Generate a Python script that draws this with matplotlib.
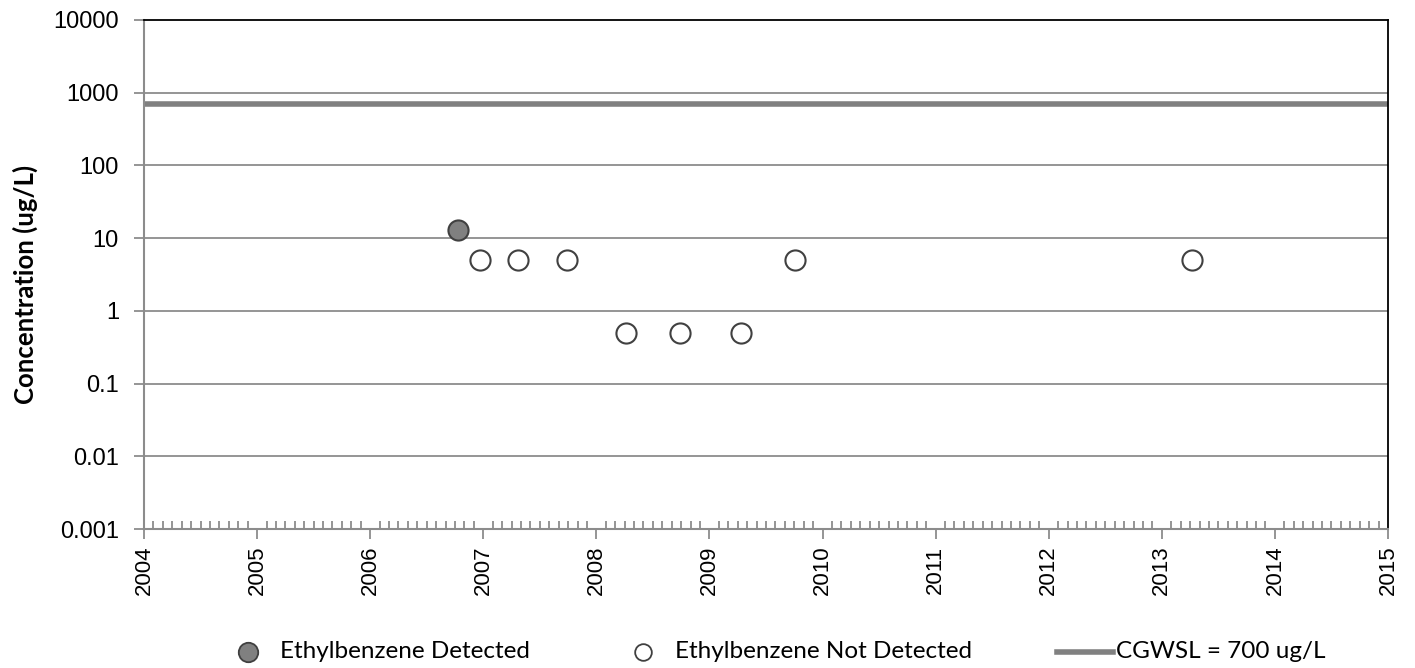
import matplotlib
matplotlib.use("Agg")
import matplotlib.pyplot as plt
from matplotlib.lines import Line2D
from matplotlib.ticker import FixedLocator, FixedFormatter, NullFormatter
import numpy as np

# Sample dates (decimal years) and concentrations (ug/L)
detected_dates = [2006.78]
detected_values = [13]
nondetect_dates = [2006.97, 2007.31, 2007.74, 2008.26, 2008.74, 2009.28, 2009.76, 2013.27]
nondetect_values = [5, 5, 5, 0.5, 0.5, 0.5, 5, 5]
cgwsl_value = 700
year_ticks = list(range(2004, 2016))
y_ticks = [0.001, 0.01, 0.1, 1, 10, 100, 1000, 10000]
y_tick_labels = ["0.001", "0.01", "0.1", "1", "10", "100", "1000", "10000"]
legend_labels = ["Ethylbenzene Detected", "Ethylbenzene Not Detected", "CGWSL = 700 ug/L"]

GRID = "#8c8c8c"
W, H = 1415, 668

fig = plt.figure(figsize=(W / 100, H / 100), dpi=100)
ax = fig.add_axes([144 / W, 1 - 529 / H, (1388 - 144) / W, (529 - 20) / H])

ax.set_yscale("log")
ax.set_ylim(0.001, 10000)
ax.set_xlim(2004, 2015)

for v in y_ticks[1:-1]:
    ax.axhline(v, color=GRID, lw=1.3, zorder=1)

ax.axhline(cgwsl_value, color="#808080", lw=4, zorder=2)

ax.scatter(detected_dates, detected_values, s=210, facecolor="#808080",
           edgecolor="#404040", linewidths=1.5, zorder=4)
ax.scatter(nondetect_dates, nondetect_values, s=210, facecolor="white",
           edgecolor="#404040", linewidths=1.5, zorder=4)

ax.yaxis.set_major_locator(FixedLocator(y_ticks))
ax.yaxis.set_major_formatter(FixedFormatter(y_tick_labels))
ax.yaxis.set_minor_locator(FixedLocator([]))
ax.yaxis.set_minor_formatter(NullFormatter())
ax.xaxis.set_major_locator(FixedLocator(year_ticks))
ax.set_xticklabels([str(y) for y in year_ticks], rotation=90)
ax.xaxis.set_minor_locator(FixedLocator(np.arange(2004, 2015.001, 1 / 12)))

for lab in ax.get_xticklabels():
    lab.set_fontfamily("Liberation Sans")
    lab.set_fontsize(16)
for lab in ax.get_yticklabels():
    lab.set_fontfamily("Liberation Sans")
    lab.set_fontsize(17)

ax.tick_params(axis="y", which="major", direction="out", length=7,
               width=1.3, color=GRID, pad=11)
ax.tick_params(axis="x", which="major", direction="out", length=7,
               width=1.3, color=GRID, pad=5)
ax.tick_params(axis="x", which="minor", direction="in", length=6,
               width=1.3, color=GRID)

for side in ("left", "bottom"):
    ax.spines[side].set_color(GRID)
    ax.spines[side].set_linewidth(1.5)
for side in ("top", "right"):
    ax.spines[side].set_color("black")
    ax.spines[side].set_linewidth(1.3)

fig.text(25 / W, 1 - 284 / H, "Concentration (ug/L)", family="Lato",
         fontsize=18.5, fontweight="bold", rotation=90, ha="center", va="center")

# Legend row along the bottom of the figure
ly = 1 - 652 / H
fig.add_artist(Line2D([248 / W], [ly], ls="none", marker="o", markersize=14,
                      markerfacecolor="#808080", markeredgecolor="#404040",
                      markeredgewidth=1.3, transform=fig.transFigure))
fig.text(280 / W, ly, legend_labels[0], family="Lato", fontsize=17.5,
         ha="left", va="center")
fig.add_artist(Line2D([643 / W], [ly], ls="none", marker="o", markersize=12,
                      markerfacecolor="white", markeredgecolor="#404040",
                      markeredgewidth=1.3, transform=fig.transFigure))
fig.text(675 / W, ly, legend_labels[1], family="Lato", fontsize=17.5,
         ha="left", va="center")
fig.add_artist(Line2D([1057 / W, 1113 / W], [ly, ly], color="#808080", lw=4,
                      transform=fig.transFigure))
fig.text(1116 / W, ly, legend_labels[2], family="Lato", fontsize=17.5,
         ha="left", va="center")

fig.savefig("out.png", dpi=100)
